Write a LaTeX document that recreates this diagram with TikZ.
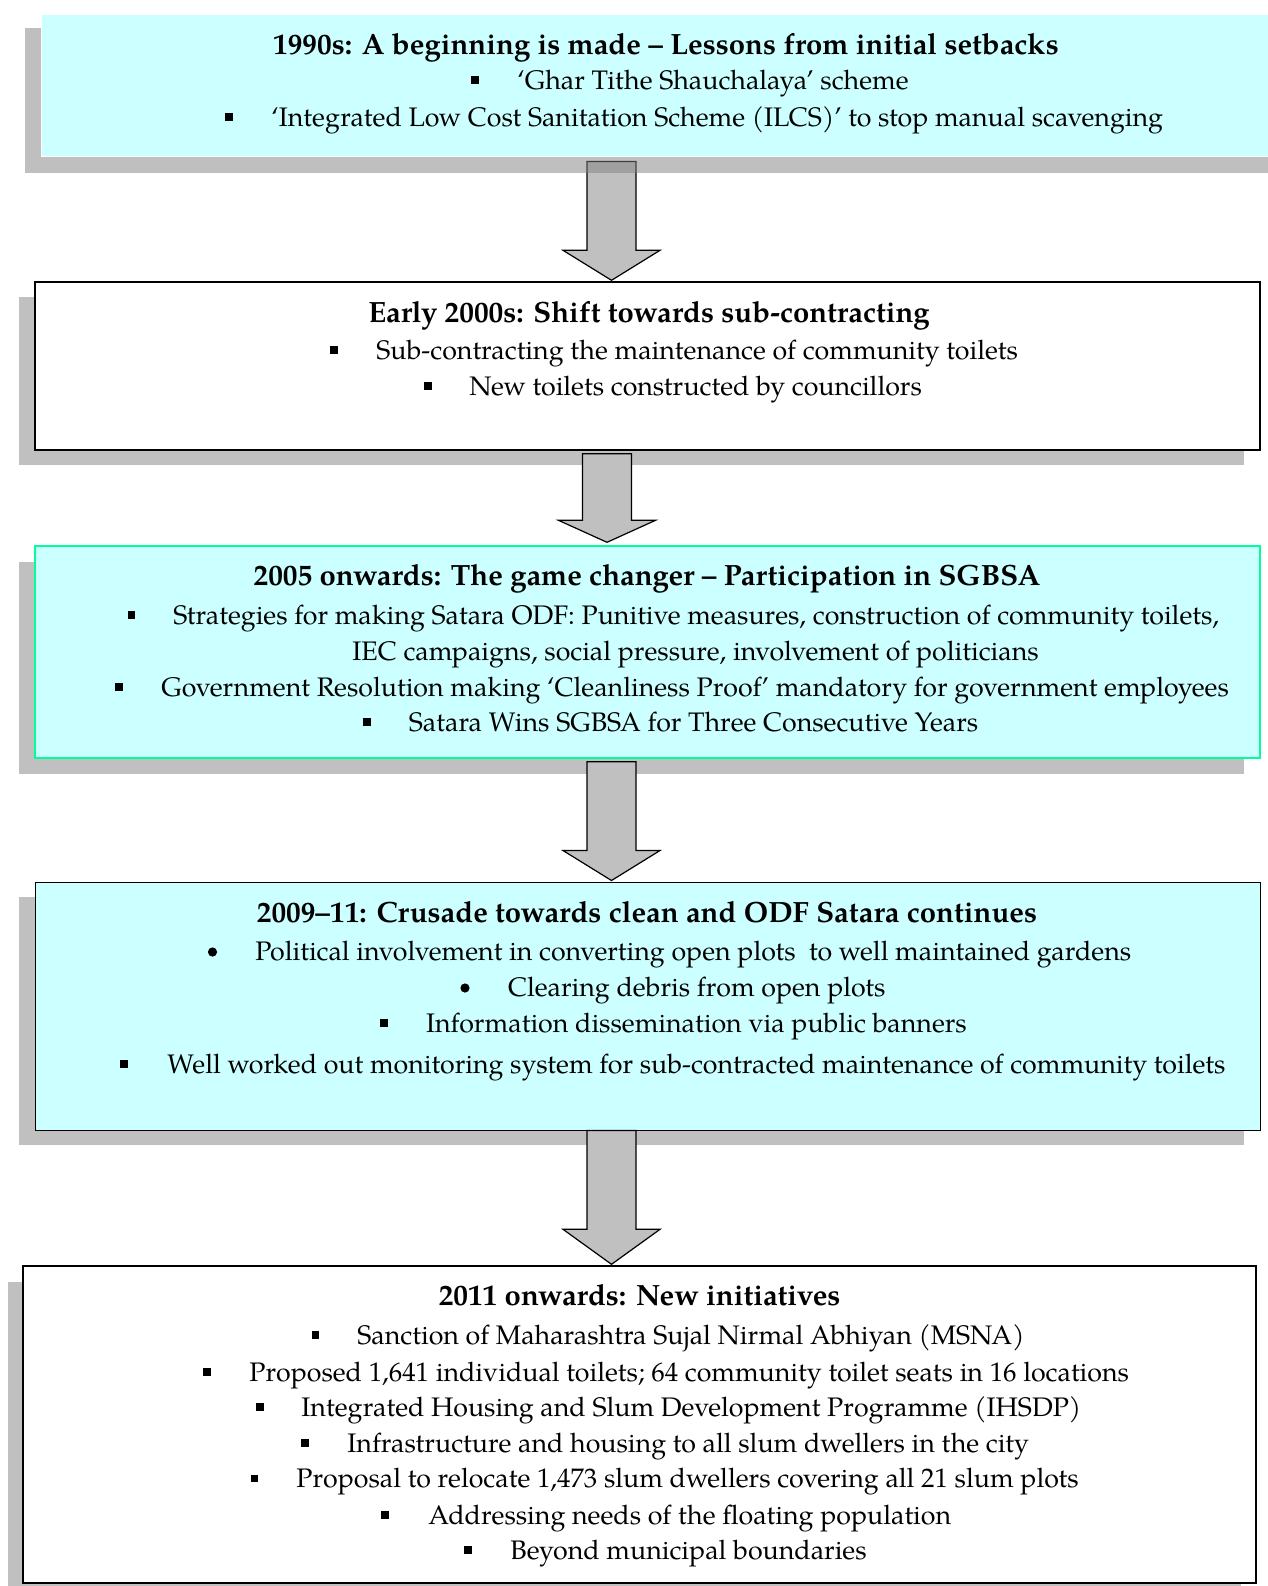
\documentclass[tikz,border=0pt]{standalone}
\usepackage{fontspec}
\setmainfont{TeX Gyre Pagella}
\usetikzlibrary{calc,fit}
\definecolor{cyanbg}{HTML}{CCFFFF}
\definecolor{greenb}{HTML}{00FF99}
\definecolor{shad}{HTML}{C0C0C0}
\definecolor{shaddark}{HTML}{818181}
\tikzset{
  boxcyan/.style={inner sep=0pt, fill=cyanbg, draw=white, line width=0.5pt},
  boxwhite/.style={inner sep=0pt, fill=white, draw=black, line width=0.7pt},
  boxgreen/.style={inner sep=0pt, fill=cyanbg, draw=greenb, line width=0.7pt},
  shadow/.style={fill=shad, draw=none},
  barrow/.style={fill=shad, draw=black, line width=0.6pt, line join=miter},
  txt/.style={anchor=base west, inner sep=0pt, font=\fontsize{13.4pt}{16pt}\selectfont},
  ttl/.style={anchor=base, inner sep=0pt, font=\fontsize{14.65pt}{17pt}\selectfont\bfseries},
  sqb/.style={fill=black, inner sep=0pt, minimum size=3.8pt, shape=rectangle},
  rdb/.style={fill=black, inner sep=0pt, minimum size=4.6pt, shape=circle},
}
\newcommand\blkarrow[6]{%
  \draw[barrow] ($(#1.south -| ax)+({#6-24.5},#3)$) -- ++(49,0)
    -- ($(#2.north -| ax)+({#6+24.5},{-#4-#5})$) -- ++(24,0)
    -- ($(#2.north -| ax)+(#6,-#4)$) -- ++(-48.5,-#5) -- ++(24,0) -- cycle;}
\begin{document}
\begin{tikzpicture}[x=0.5pt,y=-0.5pt]
\clip (0,0) rectangle (1268,1586);
\fill[white] (0,0) rectangle (1268,1586);
\coordinate (ax) at (611.5,0);

% box geometry
\coordinate (b1a) at (41,14);   \coordinate (b1b) at (1290,156);
\coordinate (b2a) at (35,282);  \coordinate (b2b) at (1260,450);
\coordinate (b3a) at (35,546);  \coordinate (b3b) at (1260,758);
\coordinate (b4a) at (35,882);  \coordinate (b4b) at (1260,1130);
\coordinate (b5a) at (23,1266); \coordinate (b5b) at (1256,1583);

% shadows of boxes 2-5
\fill[shadow] ($(b2a)+(-16,15)$) rectangle ($(b2b)+(-16,15)$);
\fill[shadow] ($(b3a)+(-16,16)$) rectangle ($(b3b)+(-16,16)$);
\fill[shadow] ($(b4a)+(-16,15)$) rectangle ($(b4b)+(-16,15)$);
\fill[shadow] ($(b5a)+(-15,16)$) rectangle ($(b5b)+(-15,16)$);

% boxes 2-5
\node[boxwhite, fit=(b2a)(b2b)] (b2) {};
\node[boxgreen, fit=(b3a)(b3b)] (b3) {};
\node[boxcyan, draw=black, fit=(b4a)(b4b)] (b4) {};
\node[boxwhite, fit=(b5a)(b5b)] (b5) {};

% invisible fit for box 1 to connect arrow 1
\node[inner sep=0pt, fit=(b1a)(b1b)] (b1) {};

% arrows
\blkarrow{b1}{b2}{5}{1}{30}{0}
\blkarrow{b2}{b3}{3}{3}{22}{-4.5}
\blkarrow{b3}{b4}{3}{1}{30}{0}
\blkarrow{b4}{b5}{0}{1}{35}{0}

% box 1 shadow (translucent over arrow 1), then box 1
\fill[shaddark, fill opacity=0.5] ($(b1a)+(-16,14)$) rectangle ($(b1b)+(-16,17)$);
\node[boxcyan, fit=(b1a)(b1b)] (b1f) {};

% ---- Box 1 text
\node[ttl] (t1) at (666,54) {1990s: A beginning is made – Lessons from initial setbacks};
\node[sqb] (s11) at (475,80) {};
\node[txt] (l11) at (517,89) {‘Ghar Tithe Shauchalaya’ scheme};
\node[sqb] (s12) at (229,117) {};
\node[txt] (l12) at (271,126) {‘Integrated Low Cost Sanitation Scheme (ILCS)’ to stop manual scavenging};

% ---- Box 2 text
\node[ttl] (t2) at (649,322) {Early 2000s: Shift towards sub-contracting};
\node[sqb] (s21) at (334,350) {};
\node[txt] (l21) at (376,359) {Sub-contracting the maintenance of community toilets};
\node[sqb] (s22) at (428,386) {};
\node[txt] (l22) at (469,395) {New toilets constructed by councillors};

% ---- Box 3 text
\node[ttl] (t3) at (647,585.5) {2005 onwards: The game changer – Participation in SGBSA};
\node[sqb] (s31) at (131.5,615) {};
\node[txt] (l31) at (173,624) {Strategies for making Satara ODF: Punitive measures, construction of community toilets,};
\node[txt] (l32) at (352,660) {IEC campaigns, social pressure, involvement of politicians};
\node[sqb] (s33) at (119,687) {};
\node[txt] (l33) at (161,696) {Government Resolution making ‘Cleanliness Proof’ mandatory for government employees};
\node[sqb] (s34) at (367,722) {};
\node[txt] (l34) at (408.5,731) {Satara Wins SGBSA for Three Consecutive Years};

% ---- Box 4 text
\node[ttl] (t4) at (647,922) {2009–11: Crusade towards clean and ODF Satara continues};
\node[rdb] (s41) at (212.5,952) {};
\node[txt] (l41) at (255,960) {Political involvement in converting open plots\ \ to well maintained gardens};
\node[rdb] (s42) at (465,988) {};
\node[txt] (l42) at (507.6,996) {Clearing debris from open plots};
\node[sqb] (s43) at (384,1023) {};
\node[txt] (l43) at (425.7,1032) {Information dissemination via public banners};
\node[sqb] (s44) at (124,1064) {};
\node[txt] (l44) at (167,1073) {Well worked out monitoring system for sub-contracted maintenance of community toilets};

% ---- Box 5 text
\node[ttl] (t5) at (639.6,1305.5) {2011 onwards: New initiatives};
\node[sqb] (s51) at (315.5,1335) {};
\node[txt] (l51) at (357,1344) {Sanction of Maharashtra Sujal Nirmal Abhiyan (MSNA)};
\node[sqb] (s52) at (207,1372) {};
\node[txt] (l52) at (249,1381) {Proposed 1,641 individual toilets; 64 community toilet seats in 16 locations};
\node[sqb] (s53) at (260,1407) {};
\node[txt] (l53) at (301,1416) {Integrated Housing and Slum Development Programme (IHSDP)};
\node[sqb] (s54) at (305,1443) {};
\node[txt] (l54) at (347,1452) {Infrastructure and housing to all slum dwellers in the city};
\node[sqb] (s55) at (254.5,1478.5) {};
\node[txt] (l55) at (296,1487.5) {Proposal to relocate 1,473 slum dwellers covering all 21 slum plots};
\node[sqb] (s56) at (385,1515) {};
\node[txt] (l56) at (428,1524) {Addressing needs of the floating population};
\node[sqb] (s57) at (468,1550) {};
\node[txt] (l57) at (510,1559) {Beyond municipal boundaries};
\end{tikzpicture}
\end{document}
